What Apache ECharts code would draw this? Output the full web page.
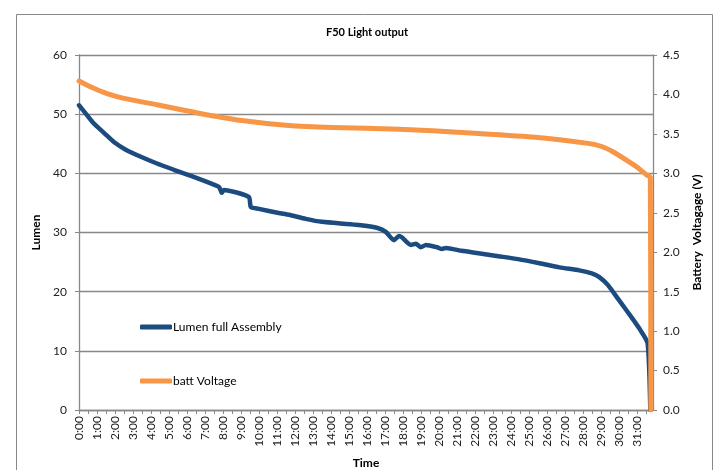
<!DOCTYPE html>
<html>
<head>
<meta charset="utf-8">
<script src="https://cdn.jsdelivr.net/npm/echarts@6/dist/echarts.min.js"></script>
<style>
html,body{margin:0;padding:0;background:#fff;}
#chart{width:713px;height:470px;}
</style>
</head>
<body>
<div id="chart"></div>
<script>
// lumen readings (hours since start)
var lumenHours  = [0, 0.4, 0.8, 1.4, 1.94, 2.6, 3.44, 4.3, 5.28, 6.56, 7.78, 7.94, 8.05, 9.44, 9.55, 10.0, 11.1, 11.67, 12.6, 13.5, 15.4, 16.55, 17.05, 17.5, 17.78, 17.94, 18.44, 18.72, 19.0, 19.28, 19.9, 20.17, 20.4, 21.28, 22.2, 23.3, 24.4, 25.6, 26.7, 27.8, 28.5, 28.9, 29.4, 30.0, 30.7, 31.2, 31.6, 31.75];
var lumenValues = [51.5, 50.0, 48.5, 46.8, 45.3, 44.0, 42.8, 41.7, 40.6, 39.2, 37.7, 36.7, 37.2, 36.0, 34.3, 34.0, 33.3, 33.0, 32.3, 31.8, 31.3, 30.8, 30.1, 28.7, 29.4, 29.2, 27.9, 28.1, 27.5, 27.9, 27.5, 27.2, 27.4, 26.9, 26.5, 26.0, 25.5, 24.8, 24.1, 23.6, 23.1, 22.5, 21.1, 18.6, 15.7, 13.5, 11.3, 0];

// battery voltage readings
var voltHours  = [0, 0.7, 1.56, 2.5, 4.33, 5.83, 6.94, 9.06, 11.5, 14.06, 17.8, 21.5, 25.2, 28.3, 29.05, 29.7, 30.4, 31.0, 31.55, 31.75, 31.78];
var voltValues = [4.17, 4.09, 4.01, 3.95, 3.87, 3.80, 3.75, 3.67, 3.61, 3.58, 3.56, 3.515, 3.46, 3.38, 3.34, 3.27, 3.17, 3.08, 2.98, 2.95, 0];

var lumenTicks = [0, 10, 20, 30, 40, 50, 60];
var voltTicks  = [0, 0.5, 1, 1.5, 2, 2.5, 3, 3.5, 4, 4.5];

function pairs(xs, ys) {
    var out = [];
    for (var i = 0; i < xs.length; i++) out.push([xs[i], ys[i]]);
    return out;
}

var FONT = 'Lato, "Open Sans", sans-serif';
var GRAY = '#888888';

var myChart = echarts.init(document.getElementById('chart'), null, {renderer: 'canvas'});
myChart.setOption({
    animation: false,
    textStyle: {fontFamily: FONT},
    graphic: [{
        type: 'rect',
        left: 14, top: 12,
        shape: {width: 696, height: 470},
        style: {fill: 'none', stroke: GRAY, lineWidth: 1},
        silent: true
    }],
    title: {
        text: 'F50 Light output',
        left: 362, top: 22,
        textAlign: 'center',
        textStyle: {fontSize: 11, fontWeight: 'bold', color: '#000', fontFamily: FONT}
    },
    legend: {
        orient: 'vertical',
        left: 135, top: 316,
        itemWidth: 32, itemHeight: 5,
        itemGap: 42,
        icon: 'roundRect',
        textStyle: {fontSize: 12, color: '#000', fontFamily: FONT, padding: [0, 0, 0, -4]},
        data: ['Lumen full Assembly', 'batt Voltage']
    },
    grid: {left: 79, right: 60, top: 55, bottom: 60, outerBoundsMode: 'none', containLabel: false},
    xAxis: {
        type: 'value',
        min: 0, max: 31.9, interval: 0.5,
        name: 'Time', nameLocation: 'middle', nameGap: 47,
        nameTextStyle: {fontSize: 12, fontWeight: 'bold', color: '#000', fontFamily: FONT},
        axisLine: {show: true, lineStyle: {color: GRAY, width: 1.3}},
        axisTick: {show: true, length: 4, lineStyle: {color: GRAY}},
        splitLine: {show: false},
        axisLabel: {
            rotate: 90, margin: 6, fontSize: 12, color: '#222', fontFamily: FONT,
            showMaxLabel: false,
            formatter: function (v) { return v % 1 === 0 ? v + ':00' : ''; }
        }
    },
    yAxis: [{
        type: 'value',
        min: lumenTicks[0], max: lumenTicks[lumenTicks.length - 1], interval: 10,
        name: 'Lumen', nameLocation: 'middle', nameGap: 33, nameRotate: 90,
        nameTextStyle: {fontSize: 12, fontWeight: 'bold', color: '#000', fontFamily: FONT},
        axisLine: {show: true, lineStyle: {color: GRAY, width: 1.3}},
        axisTick: {show: true, length: 4, lineStyle: {color: GRAY}},
        splitLine: {show: true, lineStyle: {color: GRAY, width: 1.3}},
        axisLabel: {margin: 12, fontSize: 12, color: '#222', fontFamily: FONT}
    }, {
        type: 'value',
        min: voltTicks[0], max: voltTicks[voltTicks.length - 1], interval: 0.5,
        name: 'Battery  Voltagage (V)', nameLocation: 'middle', nameGap: 36, nameRotate: 90,
        nameTextStyle: {fontSize: 12, fontWeight: 'bold', color: '#000', fontFamily: FONT},
        axisLine: {show: true, lineStyle: {color: GRAY, width: 1.3}},
        axisTick: {show: true, length: 4, lineStyle: {color: GRAY}},
        splitLine: {show: false},
        axisLabel: {
            margin: 10, fontSize: 12, color: '#222', fontFamily: FONT,
            formatter: function (v) { return v.toFixed(1); }
        }
    }],
    series: [{
        name: 'Lumen full Assembly',
        type: 'line',
        yAxisIndex: 0,
        showSymbol: false,
        smooth: 0.2,
        color: '#1C4B80',
        lineStyle: {width: 4.5, color: '#1C4B80', cap: 'round', join: 'round'},
        data: pairs(lumenHours, lumenValues)
    }, {
        name: 'batt Voltage',
        type: 'line',
        yAxisIndex: 1,
        showSymbol: false,
        smooth: 0.2,
        color: '#F79646',
        lineStyle: {width: 5, color: '#F79646', cap: 'round', join: 'round'},
        data: pairs(voltHours, voltValues)
    }]
});
</script>
</body>
</html>
